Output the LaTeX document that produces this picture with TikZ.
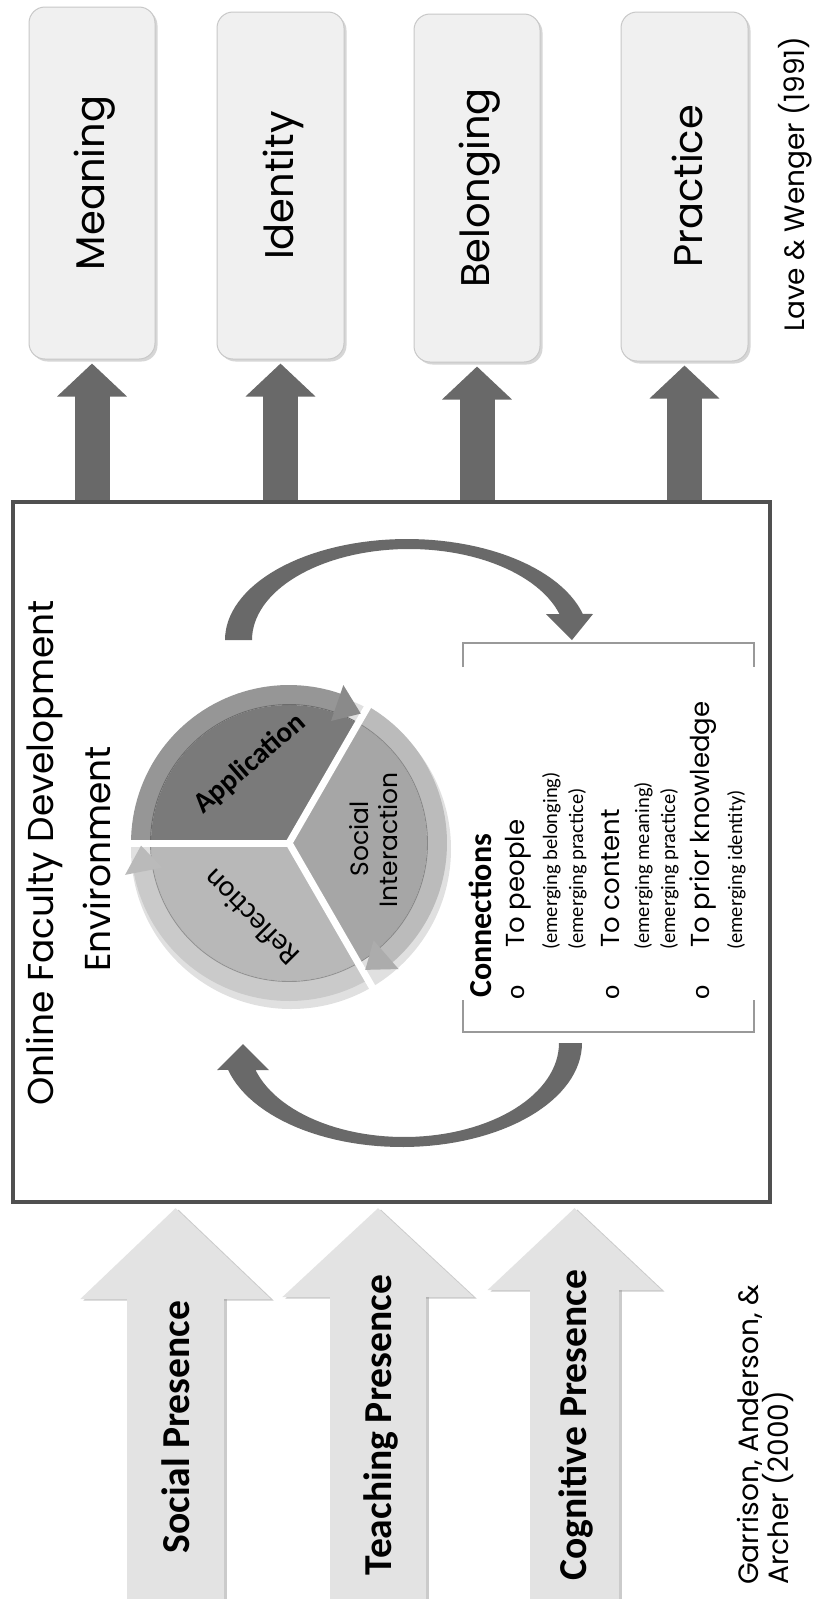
\documentclass[tikz,border=0pt]{standalone}
\usepackage{fontspec}
\setmainfont{Carlito}
\newfontfamily\gothic{Poppins}
\newfontfamily\calib{Carlito}
\usetikzlibrary{arrows.meta,shadows,calc}
\definecolor{boxfill}{HTML}{F0F0F0}
\definecolor{boxline}{HTML}{C8C8C8}
\definecolor{darkarr}{HTML}{696969}
\definecolor{framecol}{HTML}{505050}
\definecolor{presfill}{HTML}{E3E3E3}
\definecolor{appbody}{HTML}{7A7A7A}
\definecolor{appring}{HTML}{969696}
\definecolor{socbody}{HTML}{A6A6A6}
\definecolor{socring}{HTML}{BBBBBB}
\definecolor{refbody}{HTML}{B8B8B8}
\definecolor{refring}{HTML}{CACACA}
\definecolor{bracketcol}{HTML}{999999}
\begin{document}
\begin{tikzpicture}[x=1pt,y=-1pt,
  outbox/.style={draw=boxline, line width=1pt, fill=boxfill, rounded corners=16pt, inner sep=0pt,
    drop shadow={shadow xshift=2.5pt, shadow yshift=-2.5pt, opacity=.35, fill=black!45}},
  boxlabel/.style={rotate=90, inner sep=0pt, font=\gothic\fontsize{40}{48}\selectfont},
  citefont/.style={rotate=90, inner sep=0pt, anchor=base west, font=\gothic\fontsize{28}{34}\selectfont},
  titlefont/.style={rotate=90, inner sep=0pt, anchor=base, font=\gothic\fontsize{36}{44}\selectfont},
  darkarrow/.style={draw=darkarr, line width=35pt, -{Triangle[length=33pt,width=68pt]}},
  presshadow/.style={draw=black!45, opacity=.45, transform canvas={xshift=3pt,yshift=-1.5pt}},
  preslabel/.style={rotate=90, inner sep=0pt, font=\calib\bfseries\fontsize{39.6}{44}\selectfont},
  conhead/.style={rotate=90, inner sep=0pt, anchor=base west, font=\calib\bfseries\fontsize{32}{36}\selectfont},
  conitem/.style={rotate=90, inner sep=0pt, anchor=base west, font=\gothic\fontsize{26}{30}\selectfont},
  consub/.style={rotate=90, inner sep=0pt, anchor=base west, font=\calib\fontsize{20.5}{24}\selectfont},
  bullet/.style={rotate=90, inner sep=0pt, anchor=base, font=\calib\fontsize{27}{30}\selectfont},
  bracketline/.style={draw=bracketcol, line width=1.2pt}
]
\path[use as bounding box, fill=white] (0,0) rectangle (815,1599);

% ---------- outcome boxes ----------
\node[outbox, minimum width=126pt, minimum height=352pt] (meaning) at (92,183) {};
\node[outbox, minimum width=127pt, minimum height=347pt] (identity) at (280.5,185.5) {};
\node[outbox, minimum width=126pt, minimum height=348pt] (belonging) at (477,188) {};
\node[outbox, minimum width=127pt, minimum height=349pt] (practice) at (684.5,186.5) {};
\node[boxlabel] (tmeaning) at ([xshift=3pt]meaning.center) {Meaning};
\node[boxlabel] (tidentity) at ([xshift=3pt]identity.center) {Identity};
\node[boxlabel] (tbelonging) at ([xshift=3pt]belonging.center) {Belonging};
\node[boxlabel] (tpractice) at ([xshift=3pt]practice.center) {Practice};
\node[citefont] (lave) at (804,332) {Lave \& Wenger (1991)};

% ---------- main frame ----------
\node[draw=framecol, line width=4pt, minimum width=757pt, minimum height=700pt, inner sep=0pt] (main) at (391.5,852) {};

% ---------- dark arrows to outcomes ----------
\draw[darkarrow] (main.north -| meaning.south) -- ([yshift=-4pt]meaning.south);
\draw[darkarrow] (main.north -| identity.south) -- ([yshift=-4pt]identity.south);
\draw[darkarrow] (main.north -| belonging.south) -- ([yshift=-4pt]belonging.south);
\draw[darkarrow] (main.north -| practice.south) -- ([yshift=-4pt]practice.south);

% ---------- title ----------
\node[titlefont] (title1) at (53,853) {Online Faculty Development};
\node[titlefont] (title2) at (110,859) {Environment};

% ---------- curved arrows ----------
\fill[darkarr] plot[domain=180:15, samples=60] ({407+182*cos(\x)},{640-101*sin(\x)})
  -- (593,614) -- (572,640) -- (546,614)
  -- plot[domain=16.6:180, samples=60] ({409+157*cos(\x)},{640-91*sin(\x)}) -- cycle;
\fill[darkarr] plot[domain=0:-165, samples=60] ({402+180*cos(\x)},{1043-104*sin(\x)})
  -- (217,1070) -- (243,1044) -- (269,1070)
  -- plot[domain=-163.3:0, samples=60] ({404+155*cos(\x)},{1043-94*sin(\x)}) -- cycle;

% ---------- cycle pie ----------
\fill[black, opacity=.12] (291,849) circle (160pt);
\foreach \a/\b/\bc/\rc in {180/60/appbody/appring, 60/-60/socbody/socring, -60/-180/refbody/refring} {
  \pgfmathsetmacro\e{\b+8}
  \fill[\bc] (289,843) -- plot[domain=\a:\b, samples=50] ({289+138*cos(\x)},{843-138*sin(\x)}) -- cycle;
  \fill[\rc] plot[domain=\a:\e, samples=50] ({289+158*cos(\x)},{843-158*sin(\x)})
    -- plot[domain=\e:\a, samples=50] ({289+138.5*cos(\x)},{843-138.5*sin(\x)}) -- cycle;
  \draw[\rc!72!black, line width=0.9pt] plot[domain=\a:\b, samples=50] ({289+138.5*cos(\x)},{843-138.5*sin(\x)});
}
\foreach \g in {60,180,300}
  \draw[white, line width=7pt] (289,843) -- ({289+172*cos(\g)},{843-172*sin(\g)});
\foreach \b/\rc in {60/appring, -60/socring, -180/refring} {
  \pgfmathsetmacro\f{\b+11}
  \pgfmathsetmacro\t{\b+1}
  \fill[\rc!92!black] ({289+129*cos(\f)},{843-129*sin(\f)}) -- ({289+167*cos(\f)},{843-167*sin(\f)})
    -- ({289+148*cos(\t)},{843-148*sin(\t)}) -- cycle;
}
\node[rotate=41, inner sep=0pt, font=\calib\bfseries\fontsize{29}{32}\selectfont] (app) at (250,764) {Application};
\node[rotate=135, inner sep=0pt, font=\calib\fontsize{30}{33}\selectfont] (refl) at (251,918) {Reflection};
\node[rotate=90, anchor=base, inner sep=0pt, font=\gothic\fontsize{25}{30}\selectfont] (soc1) at (368,839) {Social};
\node[rotate=90, anchor=base, inner sep=0pt, font=\gothic\fontsize{25}{30}\selectfont] (soc2) at (397,840) {Interaction};

% ---------- connections block ----------
\draw[bracketline] (463,667) -- (463,643) -- (754,643) -- (754,667);
\draw[bracketline] (463,1000) -- (463,1032) -- (754,1032) -- (754,1000);
\node[conhead] (conn) at (491,998) {Connections};
\node[bullet] (b1) at (524,992) {o};
\node[conitem] (people) at (524,948) {To people};
\node[consub] (e1) at (557,950) {(emerging belonging)};
\node[consub] (e2) at (583,950) {(emerging practice)};
\node[bullet] (b2) at (619,992) {o};
\node[conitem] (content) at (619,948) {To content};
\node[consub] (e3) at (649,950) {(emerging meaning)};
\node[consub] (e4) at (675,950) {(emerging practice)};
\node[bullet] (b3) at (709,992) {o};
\node[conitem] (prior) at (709,948) {To prior knowledge};
\node[consub] (e5) at (742,950) {(emerging identity)};

% ---------- presence arrows ----------
\coordinate (sp) at (175.5,1612);
\coordinate (tp) at (378,1612);
\coordinate (cp) at (574.5,1612);
\draw[presshadow, line width=97pt, -{Triangle[length=91pt,width=185pt]}] (sp) -- ([yshift=-4pt]main.south -| sp);
\draw[presshadow, line width=96pt, -{Triangle[length=89pt,width=186pt]}] (tp) -- ([yshift=-4pt]main.south -| tp);
\draw[presshadow, line width=89pt, -{Triangle[length=82pt,width=169pt]}] (cp) -- ([yshift=-4pt]main.south -| cp);
\draw[draw=presfill, line width=97pt, -{Triangle[length=91pt,width=185pt]}] (sp) -- ([yshift=-4pt]main.south -| sp);
\draw[draw=presfill, line width=96pt, -{Triangle[length=89pt,width=186pt]}] (tp) -- ([yshift=-4pt]main.south -| tp);
\draw[draw=presfill, line width=89pt, -{Triangle[length=82pt,width=169pt]}] (cp) -- ([yshift=-4pt]main.south -| cp);
\node[preslabel] (social) at (176,1427) {Social Presence};
\node[preslabel] (teaching) at (381,1425) {Teaching Presence};
\node[preslabel] (cognitive) at (576,1425) {Cognitive Presence};
\node[citefont] (garr1) at (758,1585) {Garrison, Anderson, \&};
\node[citefont] (garr2) at (788,1585) {Archer (2000)};
\end{tikzpicture}
\end{document}
